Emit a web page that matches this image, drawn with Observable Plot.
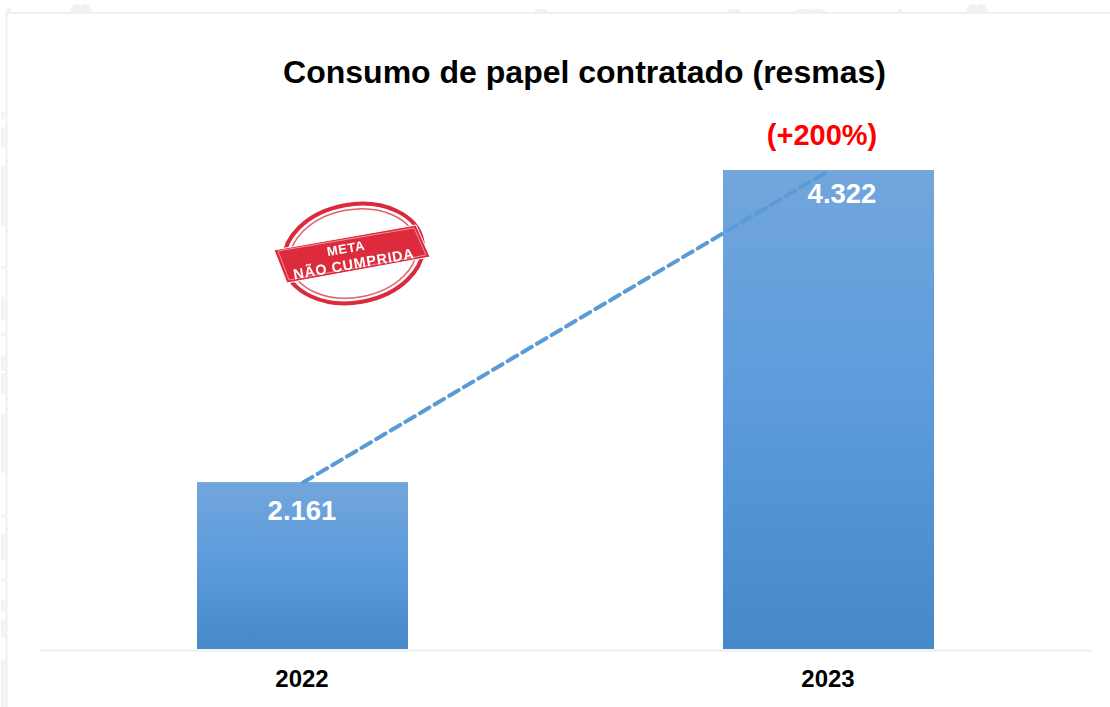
<!DOCTYPE html>
<html><head><meta charset="utf-8">
<script src="https://cdn.jsdelivr.net/npm/d3@7"></script>
<script src="https://cdn.jsdelivr.net/npm/@observablehq/plot@0.6"></script>
<style>html,body{margin:0;padding:0;background:#fff;overflow:hidden}svg{display:block}</style>
</head><body><div id="chart"></div>
<script>
const years = ["2022", "2023"];
const values = [2161, 4322];
const valueLabels = ["2.161", "4.322"];
const growthLabel = "(+200%)";
const titleText = "Consumo de papel contratado (resmas)";
const stampLines = ["META", "NÃO CUMPRIDA"];
const axisBase = 1005;

const rows = years.map((year, i) => ({year, value: values[i], label: valueLabels[i]}));
const FONT = "'Liberation Sans', Arial, sans-serif";

function defs() {
  const d = d3.create("svg:defs");
  const g = d.append("linearGradient").attr("id", "barFill").attr("x1", 0).attr("y1", 0).attr("x2", 0).attr("y2", 1);
  [[0, "#72a6dc"], [0.5, "#5b9bdc"], [1, "#4688c8"]].forEach(([o, c]) =>
    g.append("stop").attr("offset", o).attr("stop-color", c));
  d.append("filter").attr("id", "soft").append("feGaussianBlur").attr("stdDeviation", 0.6);
  return d.node();
}

function frame() {
  const g = d3.create("svg:g");
  const bumps = [[9, 3, 4], [81, 12, 7], [541, 8, 3], [734, 8, 3], [810, 20, 3], [900, 3, 3], [977, 12, 7]];
  bumps.forEach(([x, w, h]) => g.append("path").attr("fill", "#f1f1f1")
    .attr("d", `M${x - w} 13Q${x - w / 2} ${13 - 2 * h} ${x} ${13 - h}Q${x + w / 2} ${13 - 2 * h} ${x + w} 13Z`));
  const side = [[112, 119], [127, 148], [166, 226], [266, 269], [297, 320], [332, 336], [355, 371], [373, 394], [414, 473], [514, 518], [534, 560], [578, 582], [600, 611], [619, 638], [659, 707]];
  side.forEach(([a, b]) => g.append("rect").attr("x", 1).attr("y", a).attr("width", 4).attr("height", b - a).attr("fill", "#f4f4f4"));
  g.append("path").attr("d", "M6.5 707V13H1110").attr("fill", "none").attr("stroke", "#f0f0f0").attr("stroke-width", 2);
  return g.node();
}

function stamp() {
  const root = d3.create("svg:g").attr("filter", "url(#soft)");
  const ring = root.append("g").attr("transform", "translate(353.5,253.5) rotate(-10)");
  ring.append("ellipse").attr("rx", 70).attr("ry", 49).attr("fill", "none").attr("stroke", "#dc2a3c").attr("stroke-width", 4);
  ring.append("ellipse").attr("rx", 64).attr("ry", 44).attr("fill", "none").attr("stroke", "#e2606e").attr("stroke-width", 1.5);
  root.append("polygon").attr("points", "274,250 416,225 430,257 287,283")
    .attr("fill", "#dd2a3c").attr("stroke", "#fff").attr("stroke-width", 1);
  root.append("polygon").attr("points", "278,251 414,228 426,255 289,280")
    .attr("fill", "none").attr("stroke", "#f2a8b0").attr("stroke-width", 0.8);
  const t = root.append("g").attr("transform", "translate(352,254) rotate(-10)");
  stampLines.forEach((line, i) =>
    t.append("text").text(line).attr("text-anchor", "middle").attr("y", i === 0 ? -2 : 15)
      .attr("x", i === 0 ? -5 : 0)
      .attr("fill", "#fff").attr("font-family", FONT).attr("font-weight", "bold")
      .attr("font-size", i === 0 ? 13 : 14.5).attr("letter-spacing", 0.7));
  return root.node();
}

const chart = Plot.plot({
  width: 1110, height: 707,
  marginLeft: 40, marginRight: 18, marginTop: 170, marginBottom: 58,
  style: {background: "#fff", fontFamily: FONT},
  x: {domain: years, paddingInner: 0.598, paddingOuter: 0.299, label: null},
  y: {domain: [axisBase, 4322], axis: null},
  marks: [
    defs, frame,
    Plot.barY(rows, {x: "year", y1: () => axisBase, y2: "value", fill: "url(#barFill)"}),
    Plot.ruleY([axisBase], {stroke: "#eeeeee", strokeWidth: 2, dy: 1}),
    Plot.line(rows, {x: "year", y: "value", stroke: "#5b9bd5", strokeWidth: 4, strokeDasharray: "11 6"}),
    Plot.text(rows, {x: "year", y: "value", text: "label", fill: "#fff", fontWeight: "bold", fontSize: 27.5,
      dx: -1, dy: 29, textAnchor: "middle", filter: d => d.year === "2022"}),
    Plot.text(rows, {x: "year", y: "value", text: "label", fill: "#fff", fontWeight: "bold", fontSize: 27.5,
      dx: 13, dy: 24, textAnchor: "middle", filter: d => d.year === "2023"}),
    Plot.text([rows[1]], {x: "year", y: "value", text: () => growthLabel, fill: "#ff0000", fontWeight: "bold",
      fontSize: 29, dx: -7, dy: -35}),
    Plot.text([titleText], {text: d => d, fill: "#000", fontWeight: "bold",
      fontSize: 32, frameAnchor: "top", lineAnchor: "middle", dx: 18, dy: -98}),
    Plot.axisX({tickSize: 0, tickPadding: 0, fontSize: 24, fontWeight: "bold", fill: "#000", label: null, anchor: "bottom", dx: -1, dy: 20}),
    stamp
  ]
});
document.getElementById("chart").append(chart);
</script></body></html>
